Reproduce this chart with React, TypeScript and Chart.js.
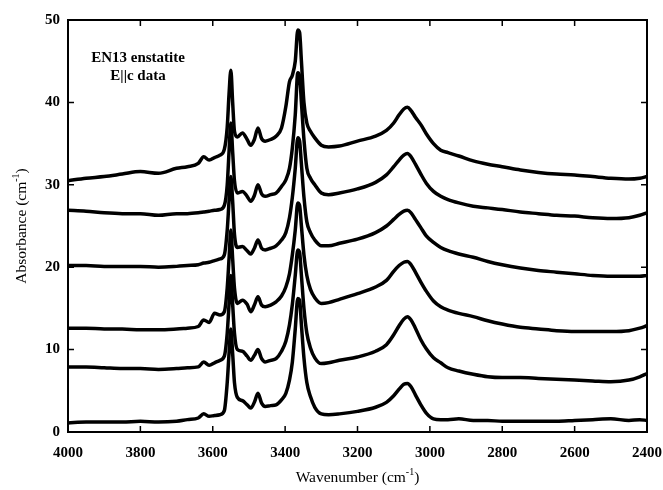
import React, { useEffect, useRef } from "react";
import { Chart, registerables } from "chart.js";
Chart.register(...registerables);

// Wavenumber grid (cm-1), shared by every spectrum
const wavenumbers = [
  4000, 3950, 3900, 3850, 3800, 3750, 3700, 3670, 3640, 3625, 3610, 3595, 3580, 3568,
  3560, 3555, 3550, 3545, 3540, 3532, 3518, 3505, 3495, 3485, 3475, 3465, 3455, 3440,
  3425, 3410, 3398, 3388, 3380, 3372, 3365, 3360, 3355, 3348, 3340, 3330, 3318, 3300,
  3280, 3250, 3200, 3150, 3120, 3100, 3085, 3072, 3062, 3052, 3040, 3025, 3010, 2990,
  2970, 2950, 2920, 2880, 2840, 2800, 2750, 2700, 2650, 2600, 2550, 2500, 2450, 2420, 2400,
];

const spectrum1 = [
  30.5, 30.8, 31.0, 31.3, 31.6, 31.4, 32.0, 32.2, 32.6, 33.4, 33.0, 33.3, 33.6, 34.3,
  37.0, 41.0, 43.9, 40.0, 36.5, 35.8, 36.3, 35.5, 34.8, 35.5, 36.9, 35.6, 35.3, 35.5,
  35.9, 36.9, 39.5, 42.5, 43.3, 45.0, 48.8, 48.5, 45.0, 40.0, 37.5, 36.5, 35.7, 34.8,
  34.6, 34.7, 35.3, 35.9, 36.6, 37.5, 38.5, 39.2, 39.4, 39.0, 38.2, 37.3, 36.2, 35.0,
  34.2, 33.9, 33.5, 32.9, 32.5, 32.2, 31.8, 31.5, 31.3, 31.2, 31.0, 30.8, 30.7, 30.8, 31.0,
];
const spectrum2 = [
  26.9, 26.8, 26.6, 26.5, 26.5, 26.3, 26.5, 26.5, 26.6, 26.7, 26.8, 26.9, 27.0, 27.5,
  30.0, 34.0, 37.5, 34.0, 30.5, 29.0, 29.2, 28.6, 28.0, 28.7, 30.0, 28.9, 28.6, 28.8,
  29.0, 29.8, 30.6, 32.0, 34.5, 38.5, 43.6, 43.2, 40.0, 35.5, 32.0, 30.8, 30.0, 29.0,
  28.8, 29.0, 29.5, 30.3, 31.2, 32.2, 33.0, 33.6, 33.8, 33.4, 32.5, 31.3, 30.2, 29.2,
  28.6, 28.2, 27.8, 27.4, 27.2, 27.0, 26.7, 26.5, 26.3, 26.2, 26.0, 25.9, 26.0, 26.3, 26.6,
];
const spectrum3 = [
  20.2, 20.2, 20.1, 20.1, 20.1, 20.0, 20.1, 20.2, 20.3, 20.5, 20.6, 20.8, 21.0, 21.5,
  24.5, 28.0, 31.0, 28.0, 24.0, 22.4, 22.5, 22.0, 21.6, 22.3, 23.3, 22.3, 22.1, 22.3,
  22.6, 23.3, 24.2, 26.0, 28.5, 32.0, 35.7, 35.3, 32.5, 28.5, 25.5, 24.2, 23.3, 22.6,
  22.6, 22.9, 23.4, 24.2, 25.0, 25.8, 26.4, 26.8, 26.9, 26.6, 25.8, 24.8, 23.8, 23.0,
  22.4, 22.0, 21.6, 21.2, 20.7, 20.3, 19.9, 19.6, 19.4, 19.2, 19.0, 18.9, 18.9, 18.9, 19.0,
];
const spectrum4 = [
  12.6, 12.6, 12.5, 12.5, 12.4, 12.4, 12.5, 12.6, 12.8, 13.6, 13.3, 14.4, 14.2, 14.6,
  17.5, 21.0, 24.5, 21.0, 17.5, 15.6, 16.0, 15.5, 14.6, 15.4, 16.4, 15.4, 15.2, 15.4,
  15.8, 16.5, 17.6, 19.2, 21.5, 24.5, 27.8, 27.5, 25.0, 21.5, 19.0, 17.3, 16.3, 15.6,
  15.7, 16.1, 16.8, 17.6, 18.4, 19.5, 20.2, 20.6, 20.7, 20.3, 19.4, 18.2, 17.1, 15.9,
  15.2, 14.8, 14.4, 14.0, 13.5, 13.1, 12.7, 12.5, 12.3, 12.2, 12.2, 12.2, 12.3, 12.6, 12.9,
];
const spectrum5 = [
  7.9, 7.9, 7.8, 7.7, 7.7, 7.6, 7.7, 7.8, 7.9, 8.5, 8.1, 8.4, 8.7, 9.2,
  12.0, 15.5, 19.0, 15.5, 12.0, 10.0, 9.8, 9.2, 8.7, 9.3, 10.0, 8.9, 8.5, 8.7,
  8.9, 9.8, 11.0, 13.0, 15.5, 19.0, 22.1, 21.8, 19.0, 15.0, 12.0, 10.2, 9.0, 8.3,
  8.4, 8.7, 9.1, 9.8, 10.6, 11.8, 12.9, 13.7, 14.0, 13.6, 12.6, 11.2, 10.1, 9.0,
  8.4, 7.8, 7.4, 7.0, 6.7, 6.6, 6.6, 6.5, 6.4, 6.3, 6.2, 6.1, 6.3, 6.7, 7.1,
];
const spectrum6 = [
  1.1, 1.2, 1.2, 1.2, 1.3, 1.2, 1.3, 1.5, 1.7, 2.2, 1.9, 2.0, 2.1, 2.6,
  6.0, 9.5, 12.5, 9.5, 6.0, 4.2, 3.8, 3.3, 2.9, 3.6, 4.7, 3.5, 3.1, 3.2,
  3.3, 3.9, 4.7, 6.3, 8.5, 12.5, 16.2, 16.0, 13.0, 9.0, 6.0, 4.3, 3.0, 2.2,
  2.1, 2.2, 2.5, 3.0, 3.6, 4.4, 5.2, 5.8, 5.9, 5.5, 4.5, 3.3, 2.3, 1.6,
  1.5, 1.5, 1.6, 1.4, 1.4, 1.3, 1.3, 1.3, 1.3, 1.4, 1.5, 1.6, 1.4, 1.5, 1.4,
];

const spectra = [spectrum1, spectrum2, spectrum3, spectrum4, spectrum5, spectrum6];

const xTickValues = [4000, 3800, 3600, 3400, 3200, 3000, 2800, 2600, 2400];
const yTickValues = [0, 10, 20, 30, 40, 50];

const annotationLines = ["EN13 enstatite", "E||c data"];
const xTitle = { base: "Wavenumber (cm", sup: "-1", tail: ")" };
const yTitle = { base: "Absorbance (cm", sup: "-1", tail: ")" };

const SERIF = "'Liberation Serif', 'Times New Roman', serif";

function drawSupText(ctx: CanvasRenderingContext2D, t: { base: string; sup: string; tail: string }, cx: number, cy: number, size: number) {
  const mainFont = `${size}px ${SERIF}`;
  const supFont = `${Math.round(size * 0.65)}px ${SERIF}`;
  ctx.font = mainFont;
  const wb = ctx.measureText(t.base).width;
  const wt = ctx.measureText(t.tail).width;
  ctx.font = supFont;
  const ws = ctx.measureText(t.sup).width;
  const total = wb + ws + wt;
  let x = cx - total / 2;
  ctx.textAlign = "left";
  ctx.textBaseline = "middle";
  ctx.font = mainFont;
  ctx.fillText(t.base, x, cy);
  x += wb;
  ctx.font = supFont;
  ctx.fillText(t.sup, x, cy - size * 0.38);
  x += ws;
  ctx.font = mainFont;
  ctx.fillText(t.tail, x, cy);
}

const framePlugin = {
  id: "frameAndDecor",
  afterDraw(chart: any) {
    const { ctx, chartArea } = chart;
    const { left, right, top, bottom } = chartArea;
    const xs = chart.scales.x;
    const ys = chart.scales.y;
    ctx.save();
    ctx.strokeStyle = "#000";
    ctx.lineWidth = 2;
    ctx.strokeRect(left, top, right - left, bottom - top);
    ctx.lineWidth = 1.5;
    const tl = 6;
    ctx.beginPath();
    for (const v of xTickValues) {
      const px = xs.getPixelForValue(v);
      ctx.moveTo(px, bottom);
      ctx.lineTo(px, bottom - tl);
      ctx.moveTo(px, top);
      ctx.lineTo(px, top + tl);
    }
    for (const v of yTickValues) {
      const py = ys.getPixelForValue(v);
      ctx.moveTo(left, py);
      ctx.lineTo(left + tl, py);
      ctx.moveTo(right, py);
      ctx.lineTo(right - tl, py);
    }
    ctx.stroke();

    ctx.fillStyle = "#000";
    ctx.textAlign = "center";
    ctx.textBaseline = "middle";
    ctx.font = `bold 15px ${SERIF}`;
    ctx.fillText(annotationLines[0], 138, 58);
    ctx.fillText(annotationLines[1], 138, 76);

    drawSupText(ctx, xTitle, (left + right) / 2, 478, 15.5);
    ctx.translate(22, (top + bottom) / 2);
    ctx.rotate(-Math.PI / 2);
    drawSupText(ctx, yTitle, 0, 0, 15.5);
    ctx.restore();
  },
};

export default function App() {
  const canvasRef = useRef<HTMLCanvasElement | null>(null);

  useEffect(() => {
    if (!canvasRef.current) return;
    const tickFont = { family: SERIF, size: 15, weight: "bold" as const };
    const chart = new Chart(canvasRef.current, {
      type: "line",
      data: {
        datasets: spectra.map((s, k) => ({
          label: `spectrum ${k + 1}`,
          data: wavenumbers.map((w, i) => ({ x: w, y: s[i] })),
          borderColor: "#000",
          borderWidth: 3.5,
          pointRadius: 0,
          fill: false,
          cubicInterpolationMode: "monotone" as const,
        })),
      },
      options: {
        responsive: false,
        animation: false,
        layout: { padding: { top: 20, right: 16, left: 0, bottom: 0 } },
        plugins: { legend: { display: false }, tooltip: { enabled: false } },
        scales: {
          x: {
            type: "linear",
            reverse: true,
            min: 2400,
            max: 4000,
            afterBuildTicks: (s: any) => {
              s.ticks = xTickValues.map((v) => ({ value: v }));
            },
            ticks: {
              color: "#000",
              font: tickFont,
              padding: 4,
              maxRotation: 0,
              autoSkip: false,
              callback: (v: any) => String(v),
            },
            grid: { display: false },
            border: { display: false },
            afterFit: (s: any) => {
              s.height = 58;
              s.paddingLeft = 0;
              s.paddingRight = 0;
            },
          },
          y: {
            type: "linear",
            min: 0,
            max: 50,
            afterBuildTicks: (s: any) => {
              s.ticks = yTickValues.map((v) => ({ value: v }));
            },
            ticks: {
              color: "#000",
              font: tickFont,
              padding: 0,
              autoSkip: false,
              callback: (v: any) => String(v),
            },
            grid: { display: false },
            border: { display: false },
            afterFit: (s: any) => {
              s.width = 68;
              s.paddingTop = 0;
              s.paddingBottom = 0;
            },
          },
        },
      },
      plugins: [framePlugin],
    });
    return () => chart.destroy();
  }, []);

  return (
    <div style={{ position: "absolute", left: 0, top: 0, width: 663, height: 490, background: "#fff" }}>
      <canvas ref={canvasRef} width={663} height={490} style={{ display: "block" }} />
    </div>
  );
}
